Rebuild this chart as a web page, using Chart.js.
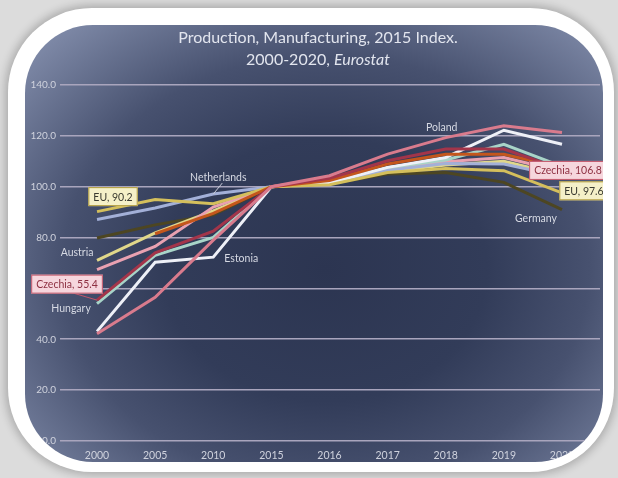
<!DOCTYPE html>
<html>
<head>
<meta charset="utf-8">
<title>Production, Manufacturing, 2015 Index</title>
<script src="https://cdn.jsdelivr.net/npm/chart.js@4.4.1/dist/chart.umd.min.js"></script>
<style>
  body { margin: 0; width: 618px; height: 478px; overflow: hidden; background: #dcdcdc; font-family: Lato, "Open Sans", sans-serif; }
  #frame { position: absolute; left: 8px; top: 8px; width: 606px; height: 464px; background: #fff; border-radius: 84px; box-shadow: 0 0 9px 3px rgba(0,0,0,0.22); }
  #panel { position: absolute; left: 25px; top: 25px; width: 578px; height: 437px; border-radius: 68px; overflow: hidden;
    background: radial-gradient(ellipse farthest-corner at 52% 56%, #2c3551 0%, #323c59 38%, #47516f 62%, #8a95b3 100%); }
  #holder { position: absolute; left: -25px; top: -25px; width: 618px; height: 478px; }
  #title { position: absolute; left: 18px; top: 26px; width: 600px; text-align: center; color: #e2e5ee; font-size: 16px; line-height: 22px; }
</style>
</head>
<body>
<div id="frame"></div>
<div id="panel"><div id="holder"><canvas id="chart" width="618" height="478"></canvas></div></div>
<div id="title">Production, Manufacturing, 2015 Index.<br>2000-2020, <i>Eurostat</i></div>
<script>
const years = ['2000', '2005', '2010', '2015', '2016', '2017', '2018', '2019', '2020'];

// index values, 2015 = 100
const poland      = [42.2, 56.5, 79.0, 100, 104.3, 112.8, 119.3, 124.0, 121.3];
const czechia     = [55.4, 74.0, 82.5, 100, 103.3, 110.2, 114.8, 114.8, 106.8];
const seriesOrange = [null, 81.5, 89.5, 100, 102.4, 108.9, 112.8, 112.8, 107.5];
const eu          = [90.2, 95.0, 93.3, 100, 100.8, 105.6, 107.2, 106.3, 97.6];
const estonia     = [43.1, 70.3, 72.3, 100, 101.5, 107.6, 111.5, 122.2, 116.7];
const hungary     = [54.0, 73.0, 80.1, 100, 102.0, 107.6, 110.5, 116.7, 108.0];
const netherlands = [87.1, 91.6, 97.1, 100, 101.5, 106.5, 109.1, 108.9, 104.0];
const seriesPink  = [67.4, 76.5, 92.0, 100, 103.0, 107.0, 109.8, 111.5, 106.0];
const austria     = [71.0, 81.8, 90.5, 100, 102.0, 106.0, 108.5, 110.0, 104.5];
const germany     = [79.8, 85.0, 89.0, 100, 101.2, 105.0, 105.6, 101.7, 91.0];

const yTicks = [0, 20, 40, 60, 80, 100, 120, 140];

const series = [
  { name: 'Poland', data: poland, color: '#d97b8d' },
  { name: 'Czechia', data: czechia, color: '#a3354a' },
  { name: 'Other (orange)', data: seriesOrange, color: '#c4561c' },
  { name: 'EU', data: eu, color: '#d4bf5c' },
  { name: 'Estonia', data: estonia, color: '#eef0f7' },
  { name: 'Hungary', data: hungary, color: '#a8d4c8' },
  { name: 'Netherlands', data: netherlands, color: '#a3b0d8' },
  { name: 'Other (pink)', data: seriesPink, color: '#e9a1b1' },
  { name: 'Austria', data: austria, color: '#e0d78a' },
  { name: 'Germany', data: germany, color: '#4d4622' }
];

// which points get a label, and how far from the point it sits
const pointLabels = [
  { series: 'EU', index: 0, value: true, dx: 16, dy: -15, box: ['#f5f0c8', '#b09a3a', '#3a3a30'] },
  { series: 'EU', index: 8, value: true, dx: 22, dy: -2, box: ['#f5f0c8', '#b09a3a', '#3a3a30'] },
  { series: 'Czechia', index: 0, value: true, dx: -30, dy: -16, box: ['#f6d6dd', '#c2566a', '#8e3042'], leader: [3, 8] },
  { series: 'Czechia', index: 8, value: true, dx: 6, dy: 1, box: ['#f6d6dd', '#c2566a', '#8e3042'] },
  { series: 'Netherlands', index: 2, dx: 5, dy: -17, leader: [4, 6] },
  { series: 'Austria', index: 0, dx: -20, dy: -8 },
  { series: 'Hungary', index: 0, dx: -26, dy: 4 },
  { series: 'Estonia', index: 2, dx: 28, dy: 1 },
  { series: 'Poland', index: 6, dx: -4, dy: -11 },
  { series: 'Germany', index: 8, dx: -26, dy: 9 }
];

const labelPlugin = {
  id: 'pointLabels',
  afterDatasetsDraw(chart) {
    const ctx = chart.ctx;
    ctx.save();
    ctx.font = '10.5px Lato, "Open Sans", sans-serif';
    ctx.textAlign = 'center';
    ctx.textBaseline = 'middle';
    pointLabels.forEach(l => {
      const dsIndex = series.findIndex(s => s.name === l.series);
      const pt = chart.getDatasetMeta(dsIndex).data[l.index];
      const text = l.value ? `${l.series}, ${series[dsIndex].data[l.index].toFixed(1)}` : l.series;
      const cx = pt.x + l.dx;
      const cy = pt.y + l.dy;
      const w = ctx.measureText(text).width + 10;
      const h = 19;
      if (l.leader) {
        ctx.strokeStyle = l.box ? l.box[1] : '#c8ccd8';
        ctx.lineWidth = 1;
        ctx.beginPath();
        ctx.moveTo(cx + l.leader[0], cy + l.leader[1]);
        ctx.lineTo(pt.x, pt.y);
        ctx.stroke();
      }
      if (l.box) {
        ctx.fillStyle = l.box[0];
        ctx.strokeStyle = l.box[1];
        ctx.lineWidth = 1;
        ctx.fillRect(cx - w / 2, cy - h / 2, w, h);
        ctx.strokeRect(cx - w / 2 + 0.5, cy - h / 2 + 0.5, w - 1, h - 1);
        ctx.fillStyle = l.box[2];
      } else {
        ctx.fillStyle = '#d6d9e3';
      }
      ctx.fillText(text, cx, cy + 0.5);
    });
    ctx.restore();
  }
};

new Chart(document.getElementById('chart'), {
  type: 'line',
  data: {
    datasets: series.map(s => ({
      label: s.name,
      data: s.data.map((v, i) => ({ x: i, y: v })),
      borderColor: s.color,
      backgroundColor: s.color,
      borderWidth: 3,
      pointRadius: 0,
      tension: 0,
      spanGaps: false
    }))
  },
  options: {
    responsive: false,
    animation: false,
    layout: { padding: { top: 85, right: 18, left: 0, bottom: 0 } },
    plugins: { legend: { display: false }, tooltip: { enabled: false }, title: { display: false } },
    scales: {
      x: {
        type: 'linear',
        min: -0.637,
        max: 8.654,
        afterBuildTicks: scale => { scale.ticks = years.map((y, i) => ({ value: i })); },
        afterFit: scale => { scale.height = 37; },
        grid: { display: false, drawTicks: false },
        border: { display: false },
        ticks: {
          padding: 8,
          color: '#cfd2dd',
          font: { family: 'Lato', size: 10.5 },
          maxRotation: 0,
          callback: v => years[v]
        }
      },
      y: {
        min: 0,
        max: 140,
        afterBuildTicks: scale => { scale.ticks = yTicks.map(v => ({ value: v })); },
        afterFit: scale => { scale.width = 60; },
        grid: { color: '#a9a5bd', lineWidth: 1.6, drawTicks: false },
        border: { display: false },
        ticks: {
          padding: 4,
          color: '#cfd2dd',
          font: { family: 'Lato', size: 10 },
          callback: v => v.toFixed(1)
        }
      }
    }
  },
  plugins: [labelPlugin]
});
</script>
</body>
</html>
